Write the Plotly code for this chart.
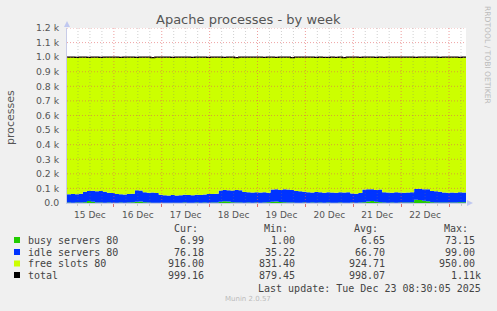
import pandas as pd
import plotly.graph_objects as go

# ---------------- data ----------------
times = pd.date_range("2025-12-15 00:30", periods=101, freq="2h")

busy = [3, 2, 3, 4, 6, 14, 8, 4, 3, 2, 3, 2,
        2, 3, 2, 3, 5, 9, 11, 5, 3, 2, 2, 1,
        1, 2, 1, 2, 2, 3, 2, 2, 3, 2, 3, 2,
        3, 4, 8, 12, 10, 6, 4, 3, 2, 3, 2, 3,
        2, 3, 5, 8, 11, 7, 6, 4, 3, 2, 2, 3,
        2, 3, 2, 3, 2, 3, 2, 2, 3, 2, 2, 3,
        2, 3, 6, 10, 13, 8, 5, 3, 2, 3, 2, 3,
        3, 4, 6, 22, 20, 16, 12, 6, 4, 3, 4, 3,
        3, 4, 5, 6, 7]

idle = [57, 60, 57, 60, 72, 68, 76, 76, 79, 76, 67, 66,
        60, 57, 56, 59, 59, 79, 75, 69, 67, 70, 66, 55,
        53, 50, 54, 50, 52, 53, 53, 52, 53, 53, 55, 60,
        59, 60, 78, 78, 78, 80, 86, 85, 74, 71, 70, 70,
        70, 71, 65, 84, 83, 83, 89, 88, 87, 80, 78, 75,
        72, 69, 73, 70, 68, 71, 70, 69, 71, 70, 71, 63,
        62, 65, 86, 85, 81, 82, 87, 71, 70, 67, 72, 69,
        67, 68, 68, 74, 78, 79, 82, 76, 76, 75, 68, 67,
        69, 66, 69, 66, 78]

total = [1000, 1000, 999, 1000, 1000, 998, 1000, 1000, 999, 1000, 1000, 1000,
         1000, 998, 1000, 1000, 1000, 999, 1000, 1000, 1000, 997, 1000, 1000,
         1000, 1000, 999, 1000, 1000, 1000, 1000, 998, 1000, 1000, 1000, 999,
         1000, 1000, 1000, 999, 1000, 1000, 997, 1000, 1000, 1000, 1000, 1000,
         1000, 999, 1000, 1000, 998, 1000, 1000, 1000, 997, 1000, 1000, 1000,
         1000, 1000, 999, 1000, 998, 998, 1000, 999, 1000, 997, 1000, 1000,
         1000, 998, 1000, 1000, 1000, 998, 1000, 999, 1000, 1000, 1000, 1000,
         1000, 1000, 1000, 999, 1000, 1000, 1000, 1000, 1000, 998, 1000, 1000,
         1000, 1000, 999, 1000, 1000]

# free slots fill the stack up to the total line
free = [t - b - i for t, b, i in zip(total, busy, idle)]

y_tick_vals = [0, 100, 200, 300, 400, 500, 600, 700, 800, 900, 1000, 1100, 1200]
y_tick_text = ["0.0", "0.1 k", "0.2 k", "0.3 k", "0.4 k", "0.5 k", "0.6 k",
               "0.7 k", "0.8 k", "0.9 k", "1.0 k", "1.1 k", "1.2 k"]

series_names = ["busy servers 80", "idle servers 80", "free slots 80", "total"]
series_colors = ["#22CC00", "#0033FF", "#CCFF00", "#000000"]
cur_vals = ["6.99", "76.18", "916.00", "999.16"]
min_vals = ["1.00", "35.22", "831.40", "879.45"]
avg_vals = ["6.65", "66.70", "924.71", "998.07"]
max_vals = ["73.15", "99.00", "950.00", "1.11k"]

title = "Apache processes - by week"
last_update = "Last update: Tue Dec 23 08:30:05 2025"

# ---------------- layout geometry (pixels) ----------------
W_, H_ = 497, 311
L, R, T, B = 67, 466, 28, 203


def px(x):
    return (x - L) / (R - L)


def py(y):
    return (B - y) / (B - T)


fig = go.Figure()
for ys, col in zip([busy, idle, free], series_colors[:3]):
    fig.add_trace(go.Scatter(x=times, y=ys, stackgroup="s", mode="lines",
                             line=dict(width=0, shape="hv"), fillcolor=col,
                             hoverinfo="skip"))
fig.add_trace(go.Scatter(x=times, y=total, mode="lines",
                         line=dict(color="#000000", width=1.2, shape="hv"),
                         hoverinfo="skip"))

shapes = []
# horizontal grid (drawn above the areas, like rrdtool)
for v in y_tick_vals[1:]:
    shapes.append(dict(type="line", xref="paper", yref="y", x0=0, x1=1, y0=v, y1=v,
                       line=dict(color="rgba(225,90,90,0.55)", width=1, dash="1px,2px"),
                       layer="above"))
# vertical grid every 6 h, red at midnight
for t in pd.date_range("2025-12-15 06:00", "2025-12-23 06:00", freq="6h"):
    major = t.hour == 0
    shapes.append(dict(type="line", xref="x", yref="paper", x0=t, x1=t, y0=0, y1=1,
                       line=dict(color="rgba(225,90,90,0.6)" if major else "rgba(120,120,120,0.35)",
                                 width=1, dash="1px,2px"),
                       layer="above"))
# axis arrows
shapes.append(dict(type="path", xref="paper", yref="paper", xsizemode="pixel", ysizemode="pixel",
                   xanchor=0, yanchor=1, path="M -3 1 L 3 1 L 0 7 Z",
                   fillcolor="#C0C8F0", line=dict(width=0)))
shapes.append(dict(type="path", xref="paper", yref="paper", xsizemode="pixel", ysizemode="pixel",
                   xanchor=1, yanchor=0, path="M 1 -3 L 1 3 L 7 0 Z",
                   fillcolor="#C0C8F0", line=dict(width=0)))

# legend squares
row_y = [240, 252, 263.5, 275]
for ry, col in zip(row_y, series_colors):
    shapes.append(dict(type="rect", xref="paper", yref="paper",
                       x0=px(14), x1=px(20), y0=py(ry - 3), y1=py(ry + 3),
                       fillcolor=col, line=dict(width=0)))

mono = dict(family="DejaVu Sans Mono", size=10, color="#444")
ann = []


def text(x, y, s, anchor="left", font=mono, **kw):
    ann.append(dict(x=px(x), y=py(y), xref="paper", yref="paper", text=s,
                    showarrow=False, xanchor=anchor, yanchor="middle", font=font, **kw))


text(200, 228, "Cur:", "right")
text(290, 228, "Min:", "right")
text(380, 228, "Avg:", "right")
text(470, 228, "Max:", "right")
for i, ry in enumerate(row_y):
    text(26, ry, series_names[i])
    text(206, ry, cur_vals[i], "right")
    text(297, ry, min_vals[i], "right")
    text(387, ry, avg_vals[i], "right")
    text(477 if max_vals[i][-1] != "k" else 483, ry, max_vals[i], "right")
text(483, 288, last_update, "right")
text(248, 299, "Munin 2.0.57", "center", font=dict(family="DejaVu Sans", size=7, color="#BBBBBB"))
text(248, 19, title, "center", font=dict(family="DejaVu Sans", size=13, color="#555555"))
text(11, 118, "processes", "center", font=dict(family="DejaVu Sans", size=11, color="#555555"),
     textangle=-90)
text(487, 55, "RRDTOOL / TOBI OETIKER", "center", font=dict(family="DejaVu Sans", size=7.6, color="#BBBBBB"),
     textangle=90)

fig.update_layout(
    width=W_, height=H_,
    margin=dict(l=L, r=W_ - R, t=T, b=H_ - B),
    paper_bgcolor="#F0F0F0", plot_bgcolor="#FFFFFF",
    showlegend=False,
    font=dict(family="DejaVu Sans", size=9, color="#555555"),
    shapes=shapes, annotations=ann,
    xaxis=dict(type="date", range=[times[0], times[-1]],
               tickmode="linear", tick0="2025-12-15", dtick=86400000,
               ticklabelmode="period", tickformat="%d %b",
               showgrid=False, zeroline=False,
               ticks="outside", ticklen=3, tickcolor="#E07070",
               showline=True, linecolor="#C8CCE8",
               minor=dict(tick0="2025-12-15", dtick=21600000, ticks="outside",
                          ticklen=2, tickcolor="#C8C8C8", showgrid=False),
               tickfont=dict(size=9, color="#555555")),
    yaxis=dict(range=[0, 1200], tickmode="array", tickvals=y_tick_vals, ticktext=y_tick_text,
               showgrid=False, zeroline=False,
               ticks="outside", ticklen=5, tickcolor="rgba(0,0,0,0)",
               showline=True, linecolor="#C8CCE8",
               tickfont=dict(size=9.3, color="#555555")),
)

fig.write_html("out.html")
